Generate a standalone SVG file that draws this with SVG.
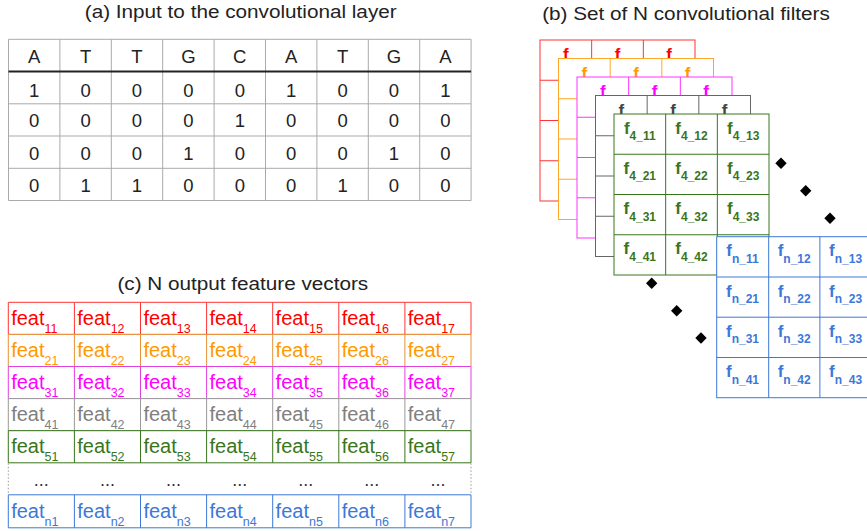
<svg xmlns="http://www.w3.org/2000/svg" width="867" height="531" viewBox="0 0 867 531">
<style>
text{font-family:"Liberation Sans",Arial,Helvetica,sans-serif}
.title{font-size:18.5px;fill:#222}
.ca{font-size:18.5px;fill:#222;text-anchor:middle}
.grid{stroke:#aaaaaa;stroke-width:1;fill:none}
.feat{font-size:20px}
.sub{font-size:12.5px}
.fb{font-size:17px;font-weight:bold;text-anchor:middle}
.fs{font-size:12px}
.dots{font-size:18px;fill:#333;text-anchor:middle}
.dia{fill:#000}
</style>
<rect width="867" height="531" fill="#fff"/>

<g id="title-a"><text class="title" text-anchor="middle" transform="translate(240.7,18) scale(1.12,1)">(a) Input to the convolutional layer</text></g>
<g id="title-b"><text class="title" text-anchor="middle" transform="translate(686,20) scale(1.12,1)">(b) Set of N convolutional filters</text></g>
<g id="title-c"><text class="title" text-anchor="middle" transform="translate(242.8,290) scale(1.12,1)">(c) N output feature vectors</text></g>

<g id="input-table">
<path class="grid" d="M8.5 39.3H471.1M8.5 103.8H471.1M8.5 136H471.1M8.5 168.3H471.1M8.5 200.5H471.1M8.5 39.3V200.5M59.9 39.3V200.5M111.3 39.3V200.5M162.7 39.3V200.5M214.1 39.3V200.5M265.5 39.3V200.5M316.9 39.3V200.5M368.3 39.3V200.5M419.7 39.3V200.5M471.1 39.3V200.5"/>
<line x1="8.5" y1="71.6" x2="471.1" y2="71.6" stroke="#222" stroke-width="2"/>
<text class="ca" y="63"><tspan x="34.2">A</tspan><tspan x="85.6">T</tspan><tspan x="137">T</tspan><tspan x="188.4">G</tspan><tspan x="239.8">C</tspan><tspan x="291.2">A</tspan><tspan x="342.6">T</tspan><tspan x="394">G</tspan><tspan x="445.4">A</tspan></text>
<text class="ca" y="96.5"><tspan x="34.2">1</tspan><tspan x="85.6">0</tspan><tspan x="137">0</tspan><tspan x="188.4">0</tspan><tspan x="239.8">0</tspan><tspan x="291.2">1</tspan><tspan x="342.6">0</tspan><tspan x="394">0</tspan><tspan x="445.4">1</tspan></text>
<text class="ca" y="127"><tspan x="34.2">0</tspan><tspan x="85.6">0</tspan><tspan x="137">0</tspan><tspan x="188.4">0</tspan><tspan x="239.8">1</tspan><tspan x="291.2">0</tspan><tspan x="342.6">0</tspan><tspan x="394">0</tspan><tspan x="445.4">0</tspan></text>
<text class="ca" y="159.5"><tspan x="34.2">0</tspan><tspan x="85.6">0</tspan><tspan x="137">0</tspan><tspan x="188.4">1</tspan><tspan x="239.8">0</tspan><tspan x="291.2">0</tspan><tspan x="342.6">0</tspan><tspan x="394">1</tspan><tspan x="445.4">0</tspan></text>
<text class="ca" y="191.5"><tspan x="34.2">0</tspan><tspan x="85.6">1</tspan><tspan x="137">1</tspan><tspan x="188.4">0</tspan><tspan x="239.8">0</tspan><tspan x="291.2">0</tspan><tspan x="342.6">1</tspan><tspan x="394">0</tspan><tspan x="445.4">0</tspan></text>
</g>

<g id="filter-1" stroke="#ff3333">
<rect x="540" y="40" width="155" height="161" fill="#fff"/>
<path fill="none" d="M591.67 40V201M643.33 40V201M540 80.25H695M540 120.5H695M540 160.75H695"/>
<text class="fb" fill="#ff0000" stroke="none" y="60"><tspan x="565.8">f</tspan><tspan x="617.5">f</tspan><tspan x="669.2">f</tspan></text>
</g>
<g id="filter-2" stroke="#ffa726">
<rect x="558.5" y="58.5" width="155" height="161" fill="#fff"/>
<path fill="none" d="M610.17 58.5V219.5M661.83 58.5V219.5M558.5 98.75H713.5M558.5 139H713.5M558.5 179.25H713.5"/>
<text class="fb" fill="#ff9900" stroke="none" y="78.5"><tspan x="584.3">f</tspan><tspan x="636">f</tspan><tspan x="687.7">f</tspan></text>
</g>
<g id="filter-3" stroke="#ff33ff">
<rect x="577" y="77" width="155" height="161" fill="#fff"/>
<path fill="none" d="M628.67 77V238M680.33 77V238M577 117.25H732M577 157.5H732M577 197.75H732"/>
<text class="fb" fill="#ff00ff" stroke="none" y="97"><tspan x="602.8">f</tspan><tspan x="654.5">f</tspan><tspan x="706.2">f</tspan></text>
</g>
<g id="filter-gray" stroke="#666666">
<rect x="595.5" y="95.5" width="155" height="161" fill="#fff"/>
<path fill="none" d="M647.17 95.5V256.5M698.83 95.5V256.5M595.5 135.75H750.5M595.5 176H750.5M595.5 216.25H750.5"/>
<text class="fb" fill="#434343" stroke="none" y="115.5"><tspan x="621.3">f</tspan><tspan x="673">f</tspan><tspan x="724.7">f</tspan></text>
</g>
<g id="filter-4" stroke="#38761d">
<rect x="614" y="114" width="155" height="161" fill="#fff"/>
<path fill="none" d="M665.67 114V275M717.33 114V275M614 154.25H769M614 194.5H769M614 234.75H769"/>
<g fill="#38761d" stroke="none">
<text class="fb" x="639.8" y="133.5">f<tspan class="fs" dy="6.5">4_11</tspan></text>
<text class="fb" x="691.5" y="133.5">f<tspan class="fs" dy="6.5">4_12</tspan></text>
<text class="fb" x="743.2" y="133.5">f<tspan class="fs" dy="6.5">4_13</tspan></text>
<text class="fb" x="639.8" y="173.8">f<tspan class="fs" dy="6.5">4_21</tspan></text>
<text class="fb" x="691.5" y="173.8">f<tspan class="fs" dy="6.5">4_22</tspan></text>
<text class="fb" x="743.2" y="173.8">f<tspan class="fs" dy="6.5">4_23</tspan></text>
<text class="fb" x="639.8" y="214">f<tspan class="fs" dy="6.5">4_31</tspan></text>
<text class="fb" x="691.5" y="214">f<tspan class="fs" dy="6.5">4_32</tspan></text>
<text class="fb" x="743.2" y="214">f<tspan class="fs" dy="6.5">4_33</tspan></text>
<text class="fb" x="639.8" y="254.3">f<tspan class="fs" dy="6.5">4_41</tspan></text>
<text class="fb" x="691.5" y="254.3">f<tspan class="fs" dy="6.5">4_42</tspan></text>
</g>
</g>
<g id="filter-n" stroke="#3c78d8">
<rect x="716.7" y="236.7" width="155" height="161" fill="#fff"/>
<path fill="none" d="M768.7 236.7V397.7M819.9 236.7V397.7M716.7 277H871.7M716.7 317.2H871.7M716.7 357.5H871.7"/>
<g fill="#3c78d8" stroke="none">
<text class="fb" x="742.5" y="256.2">f<tspan class="fs" dy="6.5">n_11</tspan></text>
<text class="fb" x="794.2" y="256.2">f<tspan class="fs" dy="6.5">n_12</tspan></text>
<text class="fb" x="845.6" y="256.2">f<tspan class="fs" dy="6.5">n_13</tspan></text>
<text class="fb" x="742.5" y="296.5">f<tspan class="fs" dy="6.5">n_21</tspan></text>
<text class="fb" x="794.2" y="296.5">f<tspan class="fs" dy="6.5">n_22</tspan></text>
<text class="fb" x="845.6" y="296.5">f<tspan class="fs" dy="6.5">n_23</tspan></text>
<text class="fb" x="742.5" y="336.7">f<tspan class="fs" dy="6.5">n_31</tspan></text>
<text class="fb" x="794.2" y="336.7">f<tspan class="fs" dy="6.5">n_32</tspan></text>
<text class="fb" x="845.6" y="336.7">f<tspan class="fs" dy="6.5">n_33</tspan></text>
<text class="fb" x="742.5" y="377">f<tspan class="fs" dy="6.5">n_41</tspan></text>
<text class="fb" x="794.2" y="377">f<tspan class="fs" dy="6.5">n_42</tspan></text>
<text class="fb" x="845.6" y="377">f<tspan class="fs" dy="6.5">n_43</tspan></text>
</g>
</g>

<g id="filter-ellipsis" class="dia">
<polygon points="781,157.6 786.7,163.3 781,169 775.3,163.3"/>
<polygon points="805.7,185 811.4,190.7 805.7,196.4 800,190.7"/>
<polygon points="830,212.6 835.7,218.3 830,224 824.3,218.3"/>
<polygon points="651.7,277.6 657.4,283.3 651.7,289 646,283.3"/>
<polygon points="676.7,305 682.4,310.7 676.7,316.4 671,310.7"/>
<polygon points="701,332.3 706.7,338 701,343.7 695.3,338"/>
</g>

<g id="connectors"></g>

<g id="feat-row-1">
<path fill="#fff" stroke="#ff3333" d="M8.3 302.3H471V334.4H8.3ZM74.4 302.3V334.4M140.5 302.3V334.4M206.6 302.3V334.4M272.7 302.3V334.4M338.8 302.3V334.4M404.9 302.3V334.4"/>
<g class="feat" fill="#ff0000">
<text x="11.2" y="325">feat<tspan class="sub" dy="7.8">11</tspan></text>
<text x="77.3" y="325">feat<tspan class="sub" dy="7.8">12</tspan></text>
<text x="143.4" y="325">feat<tspan class="sub" dy="7.8">13</tspan></text>
<text x="209.5" y="325">feat<tspan class="sub" dy="7.8">14</tspan></text>
<text x="275.6" y="325">feat<tspan class="sub" dy="7.8">15</tspan></text>
<text x="341.7" y="325">feat<tspan class="sub" dy="7.8">16</tspan></text>
<text x="407.8" y="325">feat<tspan class="sub" dy="7.8">17</tspan></text>
</g>
</g>
<g id="feat-row-2">
<path fill="#fff" stroke="#e69138" d="M8.3 334.4H471V366.5H8.3ZM74.4 334.4V366.5M140.5 334.4V366.5M206.6 334.4V366.5M272.7 334.4V366.5M338.8 334.4V366.5M404.9 334.4V366.5"/>
<g class="feat" fill="#ff9900">
<text x="11.2" y="357.1">feat<tspan class="sub" dy="7.8">21</tspan></text>
<text x="77.3" y="357.1">feat<tspan class="sub" dy="7.8">22</tspan></text>
<text x="143.4" y="357.1">feat<tspan class="sub" dy="7.8">23</tspan></text>
<text x="209.5" y="357.1">feat<tspan class="sub" dy="7.8">24</tspan></text>
<text x="275.6" y="357.1">feat<tspan class="sub" dy="7.8">25</tspan></text>
<text x="341.7" y="357.1">feat<tspan class="sub" dy="7.8">26</tspan></text>
<text x="407.8" y="357.1">feat<tspan class="sub" dy="7.8">27</tspan></text>
</g>
</g>
<g id="feat-row-3">
<path fill="#fff" stroke="#e040e0" d="M8.3 366.5H471V398.6H8.3ZM74.4 366.5V398.6M140.5 366.5V398.6M206.6 366.5V398.6M272.7 366.5V398.6M338.8 366.5V398.6M404.9 366.5V398.6"/>
<g class="feat" fill="#ff00ff">
<text x="11.2" y="389.2">feat<tspan class="sub" dy="7.8">31</tspan></text>
<text x="77.3" y="389.2">feat<tspan class="sub" dy="7.8">32</tspan></text>
<text x="143.4" y="389.2">feat<tspan class="sub" dy="7.8">33</tspan></text>
<text x="209.5" y="389.2">feat<tspan class="sub" dy="7.8">34</tspan></text>
<text x="275.6" y="389.2">feat<tspan class="sub" dy="7.8">35</tspan></text>
<text x="341.7" y="389.2">feat<tspan class="sub" dy="7.8">36</tspan></text>
<text x="407.8" y="389.2">feat<tspan class="sub" dy="7.8">37</tspan></text>
</g>
</g>
<g id="feat-row-4">
<path fill="#fff" stroke="#999999" d="M8.3 398.6H471V430.7H8.3ZM74.4 398.6V430.7M140.5 398.6V430.7M206.6 398.6V430.7M272.7 398.6V430.7M338.8 398.6V430.7M404.9 398.6V430.7"/>
<g class="feat" fill="#808080">
<text x="11.2" y="421.3">feat<tspan class="sub" dy="7.8">41</tspan></text>
<text x="77.3" y="421.3">feat<tspan class="sub" dy="7.8">42</tspan></text>
<text x="143.4" y="421.3">feat<tspan class="sub" dy="7.8">43</tspan></text>
<text x="209.5" y="421.3">feat<tspan class="sub" dy="7.8">44</tspan></text>
<text x="275.6" y="421.3">feat<tspan class="sub" dy="7.8">45</tspan></text>
<text x="341.7" y="421.3">feat<tspan class="sub" dy="7.8">46</tspan></text>
<text x="407.8" y="421.3">feat<tspan class="sub" dy="7.8">47</tspan></text>
</g>
</g>
<g id="feat-row-5">
<path fill="#fff" stroke="#38761d" d="M8.3 430.7H471V462.8H8.3ZM74.4 430.7V462.8M140.5 430.7V462.8M206.6 430.7V462.8M272.7 430.7V462.8M338.8 430.7V462.8M404.9 430.7V462.8"/>
<g class="feat" fill="#38761d">
<text x="11.2" y="453.4">feat<tspan class="sub" dy="7.8">51</tspan></text>
<text x="77.3" y="453.4">feat<tspan class="sub" dy="7.8">52</tspan></text>
<text x="143.4" y="453.4">feat<tspan class="sub" dy="7.8">53</tspan></text>
<text x="209.5" y="453.4">feat<tspan class="sub" dy="7.8">54</tspan></text>
<text x="275.6" y="453.4">feat<tspan class="sub" dy="7.8">55</tspan></text>
<text x="341.7" y="453.4">feat<tspan class="sub" dy="7.8">56</tspan></text>
<text x="407.8" y="453.4">feat<tspan class="sub" dy="7.8">57</tspan></text>
</g>
</g>
<g id="feat-row-dots">
<path fill="none" stroke="#999" stroke-dasharray="1.5,2" d="M8.3 463.3V494.3M471 463.3V494.3"/>
<text class="dots" y="485.5"><tspan x="41.35">...</tspan><tspan x="107.45">...</tspan><tspan x="173.55">...</tspan><tspan x="239.65">...</tspan><tspan x="305.75">...</tspan><tspan x="371.85">...</tspan><tspan x="437.95">...</tspan></text>
</g>
<g id="feat-row-n">
<path fill="#fff" stroke="#3c78d8" d="M8.3 494.8H471V527.8H8.3ZM74.4 494.8V527.8M140.5 494.8V527.8M206.6 494.8V527.8M272.7 494.8V527.8M338.8 494.8V527.8M404.9 494.8V527.8"/>
<g class="feat" fill="#3c78d8">
<text x="11.2" y="517.8">feat<tspan class="sub" dy="7.8">n1</tspan></text>
<text x="77.3" y="517.8">feat<tspan class="sub" dy="7.8">n2</tspan></text>
<text x="143.4" y="517.8">feat<tspan class="sub" dy="7.8">n3</tspan></text>
<text x="209.5" y="517.8">feat<tspan class="sub" dy="7.8">n4</tspan></text>
<text x="275.6" y="517.8">feat<tspan class="sub" dy="7.8">n5</tspan></text>
<text x="341.7" y="517.8">feat<tspan class="sub" dy="7.8">n6</tspan></text>
<text x="407.8" y="517.8">feat<tspan class="sub" dy="7.8">n7</tspan></text>
</g>
</g>
</svg>
